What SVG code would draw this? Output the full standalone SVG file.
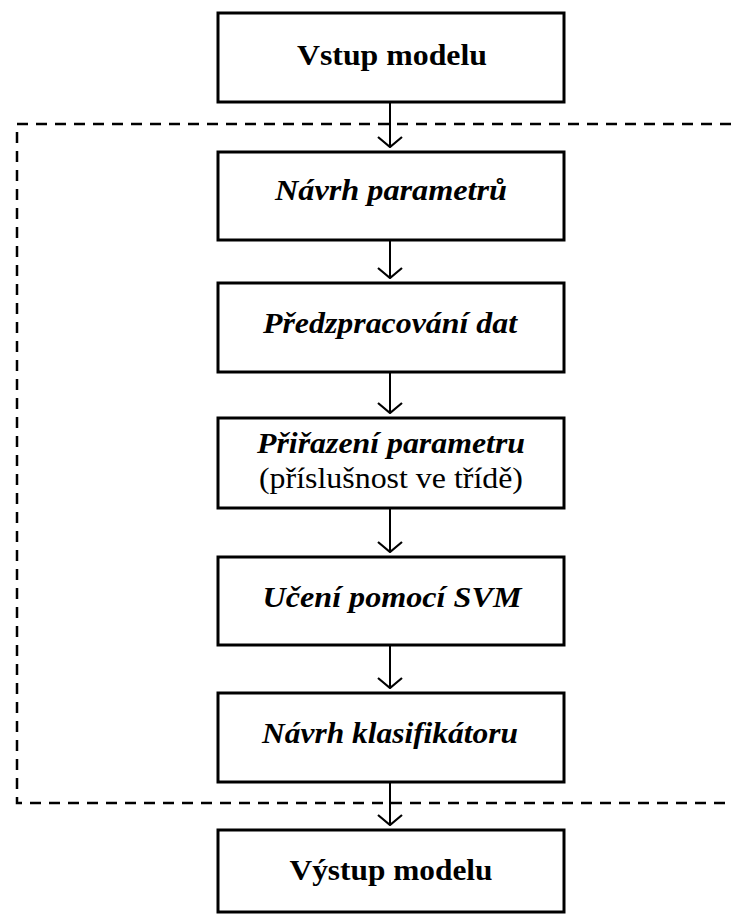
<svg xmlns="http://www.w3.org/2000/svg" width="731" height="914" viewBox="0 0 731 914">
  <style>
    .box { fill: #fff; stroke: #000; stroke-width: 3; }
    .lbl { font-family: "Liberation Serif", "Times New Roman", serif; font-size: 30px; fill: #000; text-anchor: middle; }
    .b { font-weight: bold; }
    .bi { font-weight: bold; font-style: italic; }
    .frame { fill: none; stroke: #000; stroke-width: 2.5; stroke-dasharray: 11 8; }
    .link { fill: none; stroke: #000; stroke-width: 2; marker-end: url(#head); }
  </style>
  <defs>
    <!-- open V arrowhead, drawn pointing along +x -->
    <marker id="head" viewBox="0 0 12 26" refX="11" refY="13" markerWidth="12" markerHeight="26" markerUnits="userSpaceOnUse" orient="auto">
      <path d="M1,1 L11,13 L1,25" fill="none" stroke="#000" stroke-width="2.2"/>
    </marker>
  </defs>

  <!-- dashed frame around the processing stages (open on the right) -->
  <g id="frame">
    <path class="frame" d="M731,124 H17 V803 H731"/>
  </g>

  <g id="connectors">
    <path class="link" d="M390,102 V147"/>
    <path class="link" d="M390,240 V278"/>
    <path class="link" d="M390,372 V413"/>
    <path class="link" d="M390,508 V552"/>
    <path class="link" d="M390,645 V688"/>
    <path class="link" d="M390,782 V825"/>
  </g>

  <g id="vstup">
    <rect class="box" x="218" y="13" width="346" height="89"/>
    <text class="lbl b" x="392" y="65" textLength="190" lengthAdjust="spacingAndGlyphs">Vstup modelu</text>
  </g>

  <g id="navrh-parametru">
    <rect class="box" x="218" y="152" width="346" height="88"/>
    <text class="lbl bi" x="391" y="200" textLength="232" lengthAdjust="spacingAndGlyphs">Návrh parametrů</text>
  </g>

  <g id="predzpracovani">
    <rect class="box" x="218" y="283" width="346" height="89"/>
    <text class="lbl bi" x="390" y="333" textLength="254" lengthAdjust="spacingAndGlyphs">Předzpracování dat</text>
  </g>

  <g id="prirazeni">
    <rect class="box" x="218" y="418" width="346" height="90"/>
    <text class="lbl bi" x="391" y="453" textLength="268" lengthAdjust="spacingAndGlyphs">Přiřazení parametru</text>
    <text class="lbl" x="391" y="488" textLength="264" lengthAdjust="spacingAndGlyphs">(příslušnost ve třídě)</text>
  </g>

  <g id="uceni-svm">
    <rect class="box" x="218" y="557" width="346" height="88"/>
    <text class="lbl bi" x="392" y="607" textLength="259" lengthAdjust="spacingAndGlyphs">Učení pomocí SVM</text>
  </g>

  <g id="navrh-klasifikatoru">
    <rect class="box" x="218" y="693" width="346" height="89"/>
    <text class="lbl bi" x="390" y="743" textLength="256" lengthAdjust="spacingAndGlyphs">Návrh klasifikátoru</text>
  </g>

  <g id="vystup">
    <rect class="box" x="218" y="830" width="346" height="82"/>
    <text class="lbl b" x="391" y="880" textLength="203" lengthAdjust="spacingAndGlyphs">Výstup modelu</text>
  </g>
</svg>
